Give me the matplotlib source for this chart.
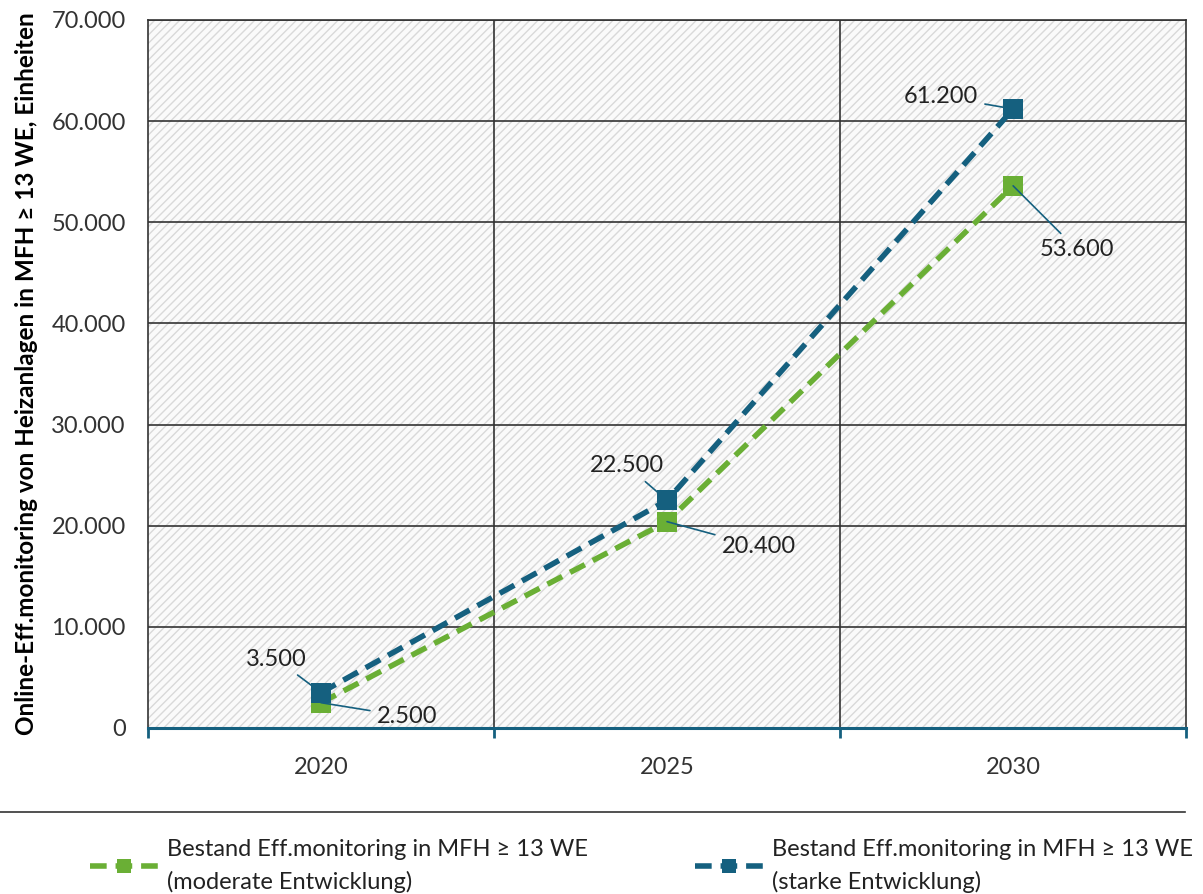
import matplotlib
matplotlib.use("Agg")
import matplotlib.pyplot as plt
from matplotlib.patches import Rectangle
from matplotlib.lines import Line2D

plt.rcParams['font.family'] = ['Lato', 'DejaVu Sans']
plt.rcParams['hatch.color'] = '#d9d9d9'
plt.rcParams['hatch.linewidth'] = 1.0

years = ['2020', '2025', '2030']
moderate = [2500, 20400, 53600]
starke = [3500, 22500, 61200]
yticks = [0, 10000, 20000, 30000, 40000, 50000, 60000, 70000]
ytick_labels = ['0', '10.000', '20.000', '30.000', '40.000', '50.000', '60.000', '70.000']
label_moderate = 'Bestand Eff.monitoring in MFH ≥ 13 WE\n(moderate Entwicklung)'
label_starke = 'Bestand Eff.monitoring in MFH ≥ 13 WE\n(starke Entwicklung)'
ylabel = 'Online-Eff.monitoring von Heizanlagen in MFH ≥ 13 WE, Einheiten'

green = '#6AAF35'
blue = '#15607F'

fig = plt.figure(figsize=(12.03, 8.94), dpi=100)
ax = fig.add_axes([0.123, 0.1857, 0.863, 0.792])

x = list(range(len(years)))
ax.set_xlim(-0.5, len(years) - 0.5)
ax.set_ylim(0, 70000)

# hatched background
bg = Rectangle((0, 0), 1, 1, transform=ax.transAxes, facecolor='#fafafa',
               edgecolor='#d9d9d9', hatch='////', linewidth=0, zorder=0)
ax.add_patch(bg)

# grid
for yv in yticks[1:]:
    ax.axhline(yv, color='#333333', lw=1.2, zorder=1)
for xb in [0.5, 1.5]:
    ax.axvline(xb, color='#333333', lw=1.2, zorder=1)

ax.plot(x, moderate, color=green, lw=4, dashes=(3, 1.6), marker='s', ms=14,
        markeredgewidth=0, zorder=3, label=label_moderate)
ax.plot(x, starke, color=blue, lw=4, dashes=(3, 1.6), marker='s', ms=14,
        markeredgewidth=0, zorder=4, label=label_starke)

ax.set_yticks(yticks)
ax.set_yticklabels(ytick_labels, fontsize=17, color='#333333')
ax.set_xticks(x)
ax.set_xticklabels(years, fontsize=17, color='#333333')
ax.tick_params(axis='x', length=0, pad=21)
ax.tick_params(axis='y', length=0, pad=16)
ax.set_xticks([-0.5, 0.5, 1.5, 2.5], minor=True)
ax.tick_params(axis='x', which='minor', length=7, width=2, color=blue, direction='out')

ax.set_ylabel(ylabel, fontsize=17.5, fontweight='bold')
ax.yaxis.set_label_coords(-0.106, 0.5)

for s in ['top', 'right', 'left']:
    ax.spines[s].set_color('#333333')
    ax.spines[s].set_linewidth(1.2)
ax.spines['bottom'].set_color(blue)
ax.spines['bottom'].set_linewidth(2.2)

def fmt(v):
    return f'{v:,}'.replace(',', '.')

ann_kw = dict(fontsize=17, color='#222222', zorder=6, ha='center', va='center',
              textcoords='offset points',
              arrowprops=dict(arrowstyle='-', color=blue, lw=1.2, shrinkA=3, shrinkB=0))
# starke labels
ax.annotate(fmt(starke[0]), xy=(x[0], starke[0]), xytext=(-32, 24), **ann_kw)
ax.annotate(fmt(starke[1]), xy=(x[1], starke[1]), xytext=(-29, 25), **ann_kw)
ax.annotate(fmt(starke[2]), xy=(x[2], starke[2]), xytext=(-52, 9), **ann_kw)
# moderate labels
ax.annotate(fmt(moderate[0]), xy=(x[0], moderate[0]), xytext=(62, -10), **ann_kw)
ax.annotate(fmt(moderate[1]), xy=(x[1], moderate[1]), xytext=(66, -18), **ann_kw)
ax.annotate(fmt(moderate[2]), xy=(x[2], moderate[2]), xytext=(46, -46), **ann_kw)

# separator line above legend
fig.add_artist(Line2D([0.0, 0.985], [1 - 812 / 894, 1 - 812 / 894], color='#333333', lw=1.2))

h1, h2 = ax.get_lines()[-2:]
leg_y = 1 - 866 / 894
for handle, lab, lx in [(h1, label_moderate, 90 / 1203), (h2, label_starke, 695 / 1203)]:
    leg = fig.legend([handle], [lab], loc='center left', bbox_to_anchor=(lx, leg_y),
                     frameon=False, fontsize=17, handlelength=2.9, handletextpad=0.35,
                     borderpad=0, borderaxespad=0, labelcolor='#222222', markerscale=0.75)
    for t in leg.get_texts():
        t.set_linespacing(1.55)

fig.savefig('out.png', dpi=100)
